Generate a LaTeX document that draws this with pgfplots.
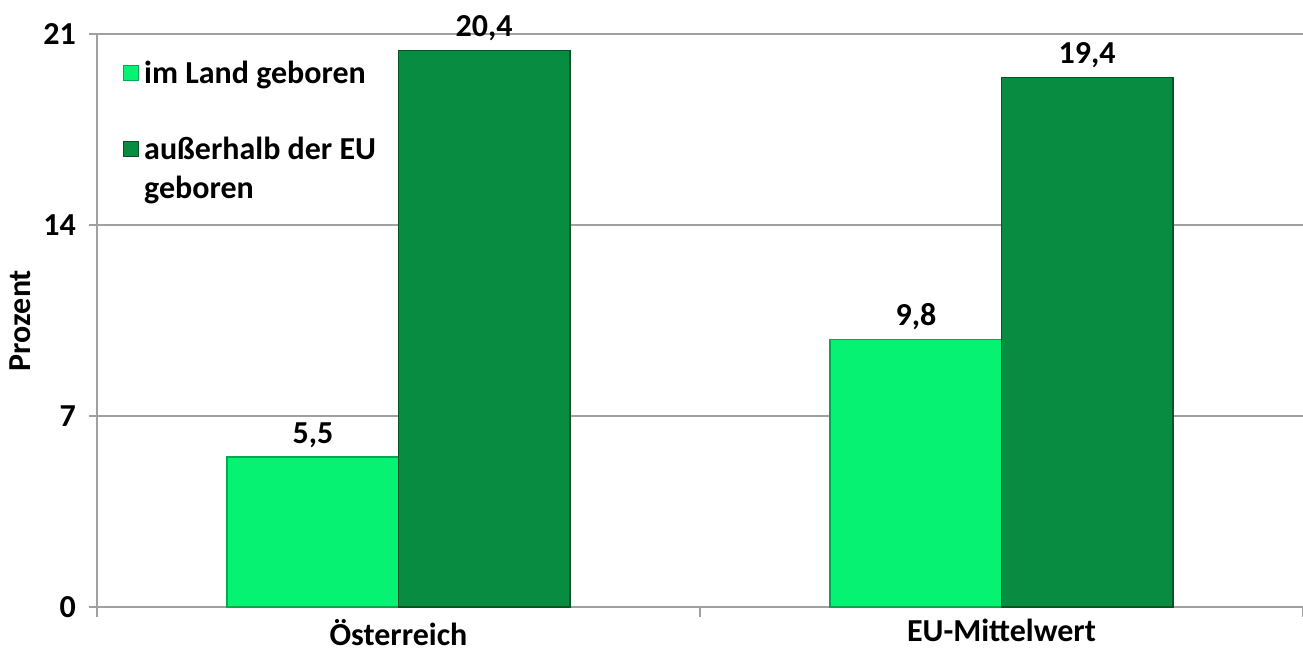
\documentclass[border=0pt]{standalone}
\usepackage{fontspec}
\setmainfont{Carlito}
\usepackage{pgfplots}
\pgfplotsset{compat=1.18}
\definecolor{lightg}{HTML}{05F272}
\definecolor{darkg}{HTML}{078C42}
\definecolor{axgray}{HTML}{A0A0A0}
\newcommand{\ff}{\fontsize{16pt}{19.5pt}\selectfont\bfseries}
\begin{document}
\begin{tikzpicture}[font=\ff]
\begin{axis}[
  name=ax,
  scale only axis,
  width=603pt, height=286.5pt,
  ybar=0pt, bar width=0.284,
  xmin=-0.5, xmax=1.5,
  ymin=0, ymax=21,
  xtick={0,1},
  xticklabels={Österreich, EU-Mittelwert},
  minor xtick={-0.5,0.5,1.5},
  major x tick style={draw=none},
  minor tick length=5pt,
  ytick={0,7,14,21},
  major tick length=4pt,
  tick align=outside,
  tick style={axgray, line width=0.6pt},
  axis x line*=bottom, axis y line*=left,
  axis line style={axgray, line width=0.8pt, -},
  ymajorgrids, grid style={axgray, line width=0.6pt},
  /pgf/number format/assume math mode=true,
  tick label style={font=\ff},
  yticklabel style={xshift=-3pt},
  xticklabel style={yshift=1.5pt},
  ylabel={Prozent},
  ylabel style={at={(axis description cs:-0.064,0.5)}, anchor=center},
  nodes near coords,
  nodes near coords style={font=\ff, yshift=1pt,
    /pgf/number format/.cd, use comma, fixed, fixed zerofill, precision=1, assume math mode=true},
  legend style={at={(0.016,0.968)}, anchor=north west, draw=none, fill=none,
    font=\ff, row sep=19pt,
    nodes={anchor=base west}},
  legend cell align=left,
  legend image code/.code={\draw[#1, line width=0.5pt] (0pt,1.5pt) rectangle (7.5pt,9pt);
    \path[draw=none, fill=none] (0pt,5pt) -- (8.5pt,5pt);},
  clip=false,
]
\addplot[fill=lightg, draw=lightg!70!black, line width=0.8pt] coordinates {(0,5.5) (1,9.8)};
\addplot[fill=darkg, draw=darkg!60!black, line width=0.8pt] coordinates {(0,20.4) (1,19.4)};
\addlegendentry{im Land geboren}
\addlegendentry{\begin{tabular}[t]{@{}l@{}}außerhalb der EU\\geboren\end{tabular}}
\end{axis}
\pgfresetboundingbox
\path ([xshift=-48.5pt,yshift=-23pt]ax.south west) rectangle ([yshift=17pt]ax.north east);
\end{tikzpicture}
\end{document}
